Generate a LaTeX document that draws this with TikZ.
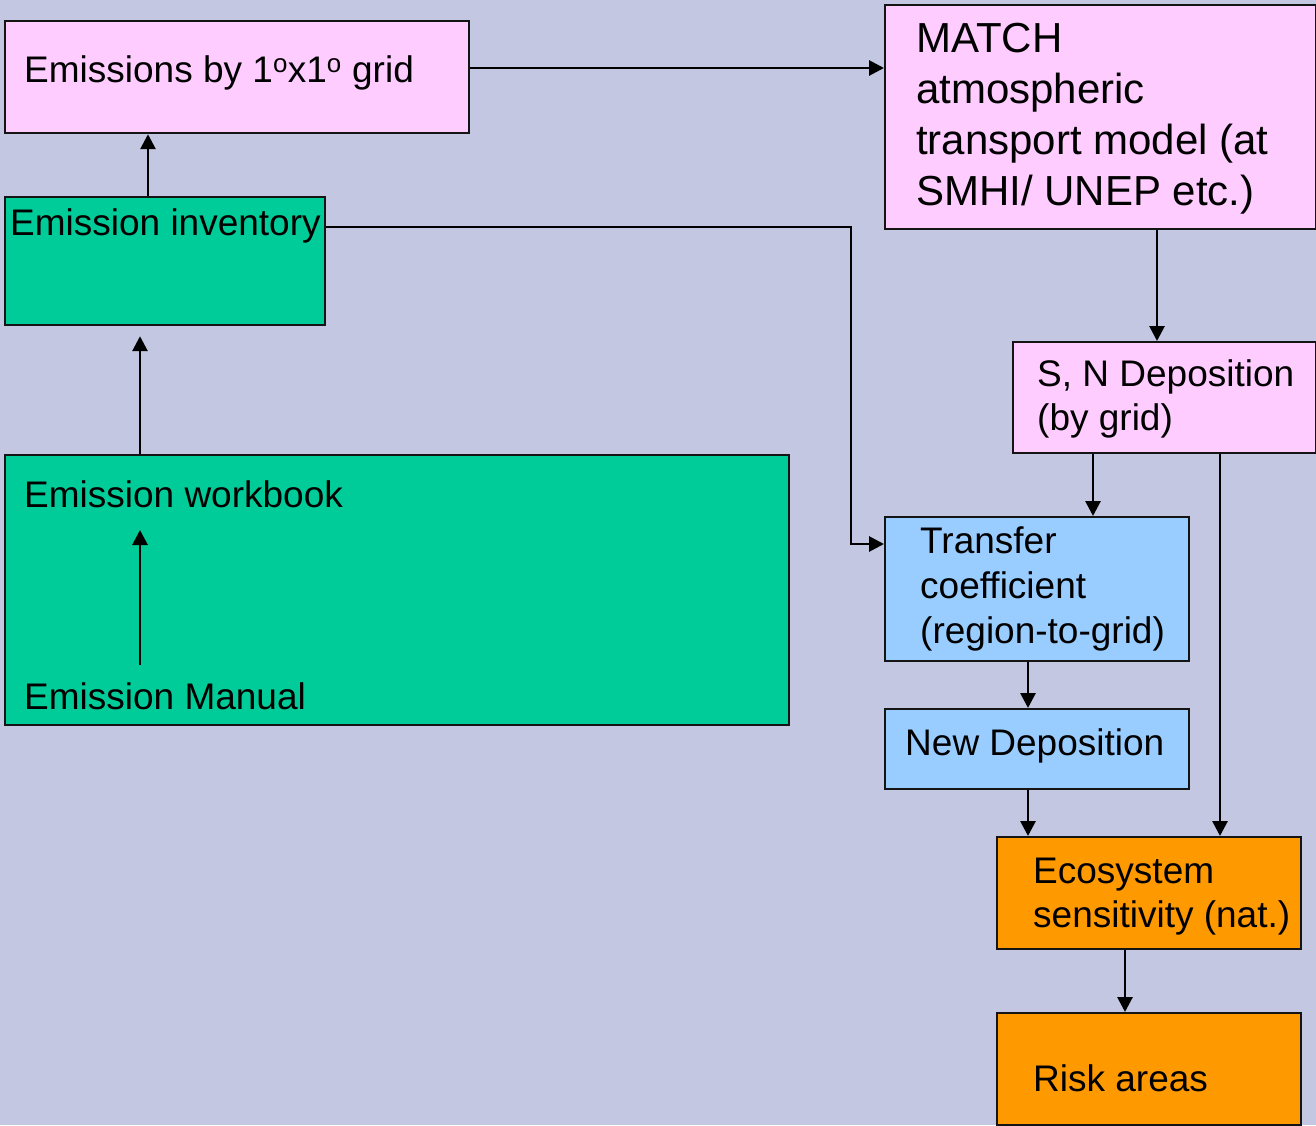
\documentclass[tikz,border=0pt]{standalone}
\usepackage{fontspec}
\setmainfont{Liberation Sans}
\usetikzlibrary{arrows.meta,calc}

\definecolor{bgcol}{RGB}{195,199,225}
\definecolor{pinkbox}{RGB}{255,204,255}
\definecolor{greenbox}{RGB}{0,204,153}
\definecolor{bluebox}{RGB}{153,204,255}
\definecolor{orangebox}{RGB}{255,153,0}
\definecolor{edge}{RGB}{20,20,20}

\tikzset{
  box/.style={draw=edge, line width=2.2pt, inner sep=0pt, anchor=north west},
  lbl/.style={inner sep=0pt, anchor=base west, align=left,
              font=\fontsize{37}{45}\selectfont},
  biglbl/.style={inner sep=0pt, anchor=base west, align=left,
              font=\fontsize{42}{51}\selectfont},
  arr/.style={line width=2.8pt, -{Triangle[length=15pt,width=15pt]}}
}

\begin{document}
\begin{tikzpicture}[x=1pt,y=-1pt]
  \useasboundingbox[fill=bgcol] (0,0) rectangle (1316,1125);

  % boxes
  \node[box, fill=pinkbox, minimum width=464pt, minimum height=112pt] (grid) at (4,20) {};
  \node[box, fill=greenbox, minimum width=320pt, minimum height=128pt] (inv) at (4,196) {};
  \node[box, fill=greenbox, minimum width=784pt, minimum height=270pt] (wb) at (4,454) {};
  \node[box, fill=pinkbox, minimum width=431pt, minimum height=224pt] (match) at (884,4) {};
  \node[box, fill=pinkbox, minimum width=303pt, minimum height=111pt] (dep) at (1012,341) {};
  \node[box, fill=bluebox, minimum width=304pt, minimum height=144pt] (tc) at (884,516) {};
  \node[box, fill=bluebox, minimum width=304pt, minimum height=80pt] (newdep) at (884,708) {};
  \node[box, fill=orangebox, minimum width=304pt, minimum height=112pt] (eco) at (996,836) {};
  \node[box, fill=orangebox, minimum width=304pt, minimum height=112pt] (risk) at (996,1012) {};

  % labels
  \node[lbl] (tgrid) at (24,82) {Emissions by 1\textsuperscript{o}x1\textsuperscript{o} grid};
  \node[lbl] (tinv) at (10,235) {Emission inventory};
  \node[lbl] (twb) at (24,507) {Emission workbook};
  \node[lbl] (tman) at (24,709) {Emission Manual};
  \node[biglbl] (tmatch1) at (916,52) {MATCH};
  \node[biglbl] (tmatch2) at (916,103) {atmospheric};
  \node[biglbl] (tmatch3) at (916,154) {transport model (at};
  \node[biglbl] (tmatch4) at (916,205) {SMHI/ UNEP etc.)};
  \node[lbl] (tdep1) at (1037,386) {S, N Deposition};
  \node[lbl] (tdep2) at (1037,430) {(by grid)};
  \node[lbl] (ttc1) at (920,553) {Transfer};
  \node[lbl] (ttc2) at (920,598) {coefficient};
  \node[lbl] (ttc3) at (920,643) {(region-to-grid)};
  \node[lbl] (tnew) at (905,755) {New Deposition};
  \node[lbl] (teco1) at (1033,883) {Ecosystem};
  \node[lbl] (teco2) at (1033,927) {sensitivity (nat.)};
  \node[lbl] (trisk) at (1033,1091) {Risk areas};

  % connectors
  \coordinate (mantop) at (140,665);
  \coordinate (wbtop) at (140,530);
  \draw[arr] (mantop) -- (wbtop);
  \draw[arr, shorten >=10pt] (wb.north -| mantop) -- (inv.south -| mantop);
  \draw[arr] (inv.north -| 148,0) -- (grid.south -| 148,0);
  \draw[arr] (grid.east |- 0,68) -- (match.west |- 0,68);
  \draw[arr] (match.south -| 1157,0) -- (dep.north -| 1157,0);
  \draw[arr] (dep.south -| 1093,0) -- (tc.north -| 1093,0);
  \draw[arr] (inv.east |- 0,227) -- (851,227) -- (851,544) -- (tc.west |- 0,544);
  \draw[arr] (tc.south -| 1028,0) -- (newdep.north -| 1028,0);
  \draw[arr] (newdep.south -| 1028,0) -- (eco.north -| 1028,0);
  \draw[arr] (dep.south -| 1220,0) -- (eco.north -| 1220,0);
  \draw[arr] (eco.south -| 1125,0) -- (risk.north -| 1125,0);
\end{tikzpicture}
\end{document}
